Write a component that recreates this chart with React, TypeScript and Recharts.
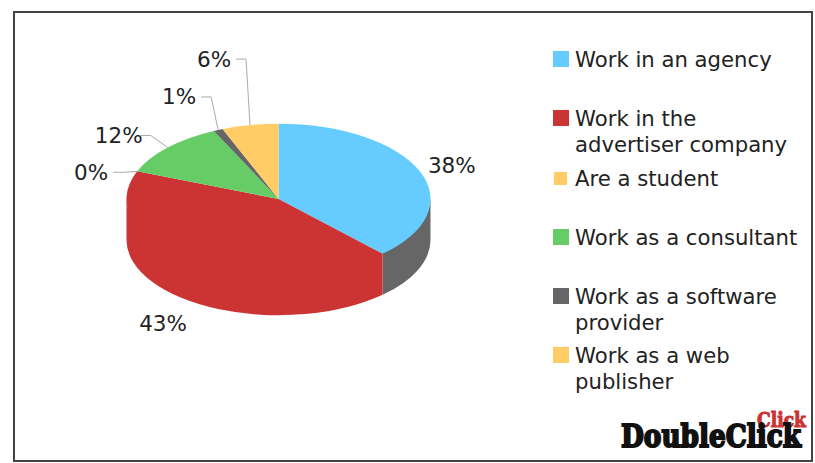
import { PieChart, Pie, Legend } from "recharts";

const categories = [
  "Work in an agency",
  "Work in the advertiser company",
  "Are a student",
  "Work as a consultant",
  "Work as a software provider",
  "Work as a web publisher",
];
const shares = [38, 43, 0, 12, 1, 6];
const topColors = ["#66CCFF", "#CC3333", "#FFCC66", "#66CC66", "#666666", "#FFCC66"];
// the rim of the blue slice is drawn grey in the original
const rimColors = ["#666666", "#CC3333", "#FFCC66", "#66CC66", "#666666", "#FFCC66"];

const tableTop = categories.map((name, i) => ({ name, value: shares[i], fill: topColors[i] }));
const tableRim = categories.map((name, i) => ({ name, value: shares[i], fill: rimColors[i] }));

const TILT = 0.495;
const DEPTH = 41;
const FONT = "'DejaVu Sans', Verdana, sans-serif";
const INK = "#222222";

// label offset from the rim point, and whether it gets a leader line
const labelPlace = [
  { dx: 32, dy: -6 },
  { dx: -30, dy: 22 + 40 },
  { dx: -46, dy: 1, elbow: true },
  { dx: -49, dy: -12, elbow: true },
  { dx: -39, dy: -33, elbow: true },
  { dx: -36, dy: -66, elbow: true },
];

function rimPoint(cx: number, cy: number, r: number, angle: number) {
  const rad = (angle * Math.PI) / 180;
  return { x: cx + r * Math.cos(rad), y: cy - r * TILT * Math.sin(rad) };
}

function TopSlice(props: any) {
  const { cx, cy, outerRadius: r, startAngle, endAngle, fill } = props;
  if (startAngle === endAngle) return null;
  const a = rimPoint(cx, cy, r, startAngle);
  const b = rimPoint(cx, cy, r, endAngle);
  const large = Math.abs(startAngle - endAngle) > 180 ? 1 : 0;
  const d = `M${cx},${cy}L${a.x},${a.y}A${r},${r * TILT} 0 ${large} 1 ${b.x},${b.y}Z`;
  return <path d={d} fill={fill} />;
}

function RimSlice(props: any) {
  const { cx, cy, outerRadius: r, startAngle, endAngle, fill } = props;
  // only the front half of the disc shows a wall (angles 0 to -180)
  const from = Math.min(startAngle, 0);
  const to = Math.max(endAngle, -180);
  if (from <= to) return null;
  const a = rimPoint(cx, cy, r, from);
  const b = rimPoint(cx, cy, r, to);
  const ry = r * TILT;
  // upper edge tucked 1.5px under the top face so no seam shows
  const d = `M${a.x},${a.y - 1.5}A${r},${ry} 0 0 1 ${b.x},${b.y - 1.5}L${b.x},${b.y + DEPTH}A${r},${ry} 0 0 0 ${a.x},${a.y + DEPTH}Z`;
  return <path d={d} fill={fill} />;
}

function PercentLabel(props: any) {
  const { cx, cy, outerRadius, midAngle, index, value } = props;
  const rim = rimPoint(cx, cy, outerRadius, midAngle);
  const place = labelPlace[index];
  const x = rim.x + place.dx;
  const y = rim.y + place.dy;
  const textRight = x + 22;
  return (
    <g>
      {place.elbow && (
        <polyline
          points={`${textRight},${y} ${textRight + 10},${y} ${rim.x},${rim.y}`}
          fill="none"
          stroke="#AAAAAA"
          strokeWidth={1}
        />
      )}
      <text
        x={x}
        y={y}
        textAnchor="middle"
        dominantBaseline="central"
        fontFamily={FONT}
        fontSize={21.5}
        fill={INK}
      >
        {value}%
      </text>
    </g>
  );
}

function LegendList({ payload }: any) {
  const items = (payload ?? []).filter((item: any) => item.type !== "none");
  return (
    <div style={{ fontFamily: FONT, fontSize: 21.2, lineHeight: "26px", color: INK }}>
      {items.map((item: any, i: number) => {
        const small = item.payload.value === 0;
        return (
          <div key={i} style={{ display: "flex", height: 59.3 }}>
            <div style={{ width: 22, flex: "none", paddingTop: small ? 6 : 4 }}>
              <div
                style={{
                  width: small ? 13 : 16,
                  height: small ? 13 : 16,
                  marginLeft: small ? 1 : 0,
                  background: item.color,
                }}
              />
            </div>
            <div style={{ width: 230 }}>{item.value}</div>
          </div>
        );
      })}
    </div>
  );
}

function Logo() {
  return (
    <svg
      width={815}
      height={463}
      style={{ position: "absolute", left: 0, top: 0, pointerEvents: "none" }}
    >
      <text
        x={757}
        y={427}
        fontFamily="'DejaVu Serif', serif"
        fontWeight="bold"
        fontSize={21}
        textLength={49}
        lengthAdjust="spacingAndGlyphs"
        fill="#CC3333"
        stroke="#CC3333"
        strokeWidth={1}
      >
        Click
      </text>
      <text
        x={621}
        y={447}
        fontFamily="'DejaVu Serif', serif"
        fontWeight="bold"
        fontSize={31}
        textLength={180}
        lengthAdjust="spacingAndGlyphs"
        fill="#111111"
        stroke="#111111"
        strokeWidth={2}
      >
        DoubleClick
      </text>
    </svg>
  );
}

export default function App() {
  return (
    <div style={{ position: "absolute", left: 0, top: 0, width: 815, height: 463, background: "#fff" }}>
      <div
        style={{
          position: "absolute",
          left: 13,
          top: 11,
          width: 796,
          height: 447,
          border: "2px solid #444444",
        }}
      />
      <PieChart width={815} height={463} margin={{ top: 0, right: 0, bottom: 0, left: 0 }}>
        <Pie
          data={tableRim}
          dataKey="value"
          nameKey="name"
          cx={278.5}
          cy={199}
          outerRadius={152}
          startAngle={90}
          endAngle={-270}
          legendType="none"
          shape={RimSlice}
          isAnimationActive={false}
        />
        <Pie
          data={tableTop}
          dataKey="value"
          nameKey="name"
          cx={278.5}
          cy={199}
          outerRadius={152}
          startAngle={90}
          endAngle={-270}
          shape={TopSlice}
          label={PercentLabel}
          labelLine={false}
          isAnimationActive={false}
        />
        <Legend
          layout="vertical"
          content={LegendList}
          itemSorter={null}
          wrapperStyle={{ position: "absolute", left: 553, top: 47, width: 262, bottom: "auto" }}
        />
      </PieChart>
      <Logo />
    </div>
  );
}
